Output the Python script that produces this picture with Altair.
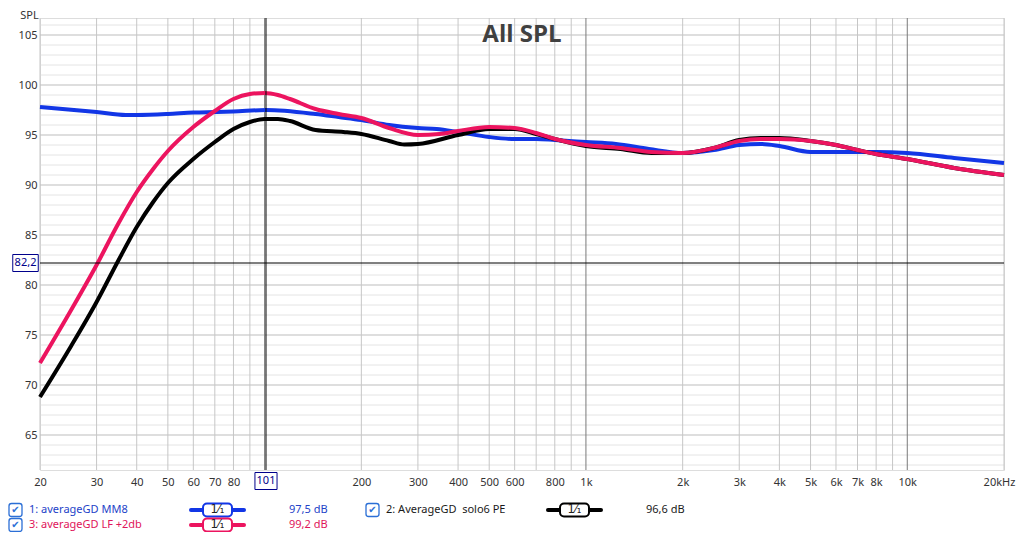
import altair as alt
import pandas as pd

# ---------------- data ----------------
series_names = ["1: averageGD MM8", "2: AverageGD  solo6 PE", "3: averageGD LF +2db"]
series_colors = ["#1236E6", "#000000", "#EC145F"]
text_colors = ["#2342C8", "#1a1a1a", "#E0145A"]
cursor_readings = ["97,5 dB", "96,6 dB", "99,2 dB"]

mm8_freq = [20, 30, 37, 40, 50, 60, 71, 80, 101, 144, 170, 200, 244, 300, 343, 400, 500, 600, 700, 800,
            1000, 1240, 1570, 2000, 2500, 3000, 3500, 4000, 5000, 6000, 8000, 10000, 14000, 20000]
mm8_spl = [97.8, 97.3, 97.0, 97.0, 97.1, 97.25, 97.3, 97.35, 97.5, 97.1, 96.8, 96.5, 96.0, 95.7, 95.6, 95.3,
           94.8, 94.6, 94.6, 94.5, 94.3, 94.1, 93.6, 93.2, 93.5, 94.0, 94.1, 93.9, 93.3, 93.3, 93.3, 93.2,
           92.7, 92.2]

solo6_freq = [20, 25, 30, 35, 40, 45, 50, 60, 70, 80, 90, 100, 110, 120, 144, 176, 200, 244, 272, 300,
              400, 500, 600, 700, 800, 1000, 1280, 1600, 2000, 2500, 3000, 3500, 4000, 5000, 6000, 7000,
              8000, 10000, 14000, 20000]
solo6_spl = [68.8, 73.9, 78.3, 82.4, 85.8, 88.3, 90.2, 92.6, 94.3, 95.6, 96.3, 96.6, 96.6, 96.4, 95.5, 95.3,
             95.1, 94.4, 94.05, 94.1, 95.0, 95.6, 95.6, 95.1, 94.6, 93.9, 93.6, 93.2, 93.2, 93.7, 94.5, 94.7,
             94.7, 94.4, 94.0, 93.5, 93.1, 92.6, 91.7, 91.0]

lf_freq = [20, 25, 30, 35, 40, 45, 50, 60, 70, 80, 90, 100, 110, 120, 144, 170, 200, 244, 300, 350,
           400, 500, 600, 700, 800, 1000, 1280, 1600, 2000, 2500, 3000, 3500, 4000, 5000, 6000, 7000,
           8000, 10000, 14000, 20000]
lf_spl = [72.2, 77.5, 82.0, 86.1, 89.3, 91.6, 93.4, 95.8, 97.4, 98.6, 99.1, 99.2, 99.0, 98.6, 97.6, 97.1,
          96.7, 95.7, 95.0, 95.1, 95.4, 95.8, 95.7, 95.2, 94.6, 94.0, 93.7, 93.3, 93.2, 93.7, 94.4, 94.6,
          94.6, 94.4, 94.0, 93.5, 93.1, 92.6, 91.7, 91.0]

xtick_values = [20, 30, 40, 50, 60, 70, 80, 200, 300, 400, 500, 600, 800, 1000, 2000, 3000, 4000,
                5000, 6000, 7000, 8000, 10000, 20000]
xtick_labels = ["20", "30", "40", "50", "60", "70", "80", "200", "300", "400", "500", "600", "800",
                "1k", "2k", "3k", "4k", "5k", "6k", "7k", "8k", "10k", "20kHz"]
ytick_values = [65, 70, 75, 80, 85, 90, 95, 100, 105]

cursor_freq = [101]
cursor_freq_label = ["101"]
cursor_spl = [82.2]
cursor_spl_label = ["82,2"]
chart_title = "All SPL"

# ---------------- tables ----------------
rows = []
for name, fr, vals in [(series_names[0], mm8_freq, mm8_spl),
                       (series_names[1], solo6_freq, solo6_spl),
                       (series_names[2], lf_freq, lf_spl)]:
    for f, v in zip(fr, vals):
        rows.append({"series": name, "freq": f, "spl": v})
curves = pd.DataFrame(rows)

grid_v = []
for dec in [10, 100, 1000, 10000]:
    for m in range(1, 10):
        f = m * dec
        if 20 <= f <= 20000:
            grid_v.append({"freq": f, "major": f in (100, 1000, 10000)})
grid_v = pd.DataFrame(grid_v)
grid_h = pd.DataFrame({"spl": list(range(62, 107))})
grid_h["major"] = grid_h["spl"] % 5 == 0

W, H = 964, 452
FONT = "Noto Sans"
FS = 11
xs = alt.Scale(type="log", domain=[20, 20000], nice=False)
ys = alt.Scale(domain=[61.5, 106.7], nice=False, zero=False)

label_expr = " : ".join(
    [f"datum.value == {v} ? '{l}'" for v, l in zip(xtick_values, xtick_labels)] + ["''"])

x_axis = alt.Axis(values=xtick_values, labelExpr=label_expr, grid=False, ticks=False, domain=False,
                  labelFont=FONT, labelFontSize=FS, labelColor="#333333", labelPadding=6,
                  labelOffset={"condition": {"test": f"datum.value == {xtick_values[-1]}", "value": -5},
                               "value": 0},
                  title=None, labelFlush=False, labelOverlap=False)
y_axis = alt.Axis(values=ytick_values, grid=False, ticks=False, domain=False, labelFont=FONT,
                  labelFontSize=FS, labelColor="#333333", labelPadding=3, labelOverlap=False,
                  title="SPL", titleAngle=0, titleX=-11, titleY=-3, titleAlign="center",
                  titleBaseline="middle", titleFont=FONT, titleFontSize=FS,
                  titleFontWeight="normal", titleColor="#333333")

X = lambda f="freq": alt.X(f"{f}:Q", scale=xs, axis=x_axis)
Y = lambda f="spl": alt.Y(f"{f}:Q", scale=ys, axis=y_axis)

gh_minor = alt.Chart(grid_h[~grid_h["major"]]).mark_rule(color="#e4e4e4", strokeWidth=1).encode(y=Y())
gh_major = alt.Chart(grid_h[grid_h["major"]]).mark_rule(color="#bdbdbd", strokeWidth=1).encode(y=Y())
gv_minor = alt.Chart(grid_v[~grid_v["major"]]).mark_rule(color="#c6c6c6", strokeWidth=1).encode(x=X())
gv_major = alt.Chart(grid_v[grid_v["major"]]).mark_rule(color="#7a7a7a", strokeWidth=1).encode(x=X())

title_df = pd.DataFrame({"t": [chart_title]})
title = alt.Chart(title_df).mark_text(font="Open Sans", fontSize=24, fontWeight="bold",
                                      color="#404040", align="center", baseline="middle").encode(
    x=alt.value(W / 2), y=alt.value(17), text="t:N")

lines = alt.Chart(curves).mark_line(strokeWidth=4, interpolate="monotone", strokeJoin="round").encode(
    x=X(), y=Y(),
    color=alt.Color("series:N", scale=alt.Scale(domain=series_names, range=series_colors), legend=None))

cur_v_df = pd.DataFrame({"freq": cursor_freq, "label": cursor_freq_label})
cur_h_df = pd.DataFrame({"spl": cursor_spl, "label": cursor_spl_label})
cur_v = alt.Chart(cur_v_df).mark_rule(color="#000000", strokeWidth=1).encode(x=X())
cur_h = alt.Chart(cur_h_df).mark_rule(color="#000000", strokeWidth=1).encode(y=Y())

box_v = alt.Chart(cur_v_df).mark_point(shape="M-1.3,-1L1.3,-1L1.3,1L-1.3,1Z", size=289, filled=True,
                                       fill="white", stroke="#00008B", strokeWidth=1, opacity=1).encode(
    x=X(), y=alt.value(463))
box_v_t = alt.Chart(cur_v_df).mark_text(font=FONT, fontSize=FS, color="#00008B", baseline="middle").encode(
    x=X(), y=alt.value(463), text="label:N")
box_h = alt.Chart(cur_h_df).mark_point(shape="M-1.5,-1L1.5,-1L1.5,1L-1.5,1Z", size=289, filled=True,
                                       fill="white", stroke="#00008B", strokeWidth=1, opacity=1).encode(
    x=alt.value(-14.5), y=Y())
box_h_t = alt.Chart(cur_h_df).mark_text(font=FONT, fontSize=FS, color="#00008B", baseline="middle").encode(
    x=alt.value(-14.5), y=Y(), text="label:N")

# ---------------- legend (custom) ----------------
col_x = [0, 357]
row_y = [492, 507]
placement = [(0, 0), (1, 0), (0, 1)]
leg = []
for i, name in enumerate(series_names):
    c, r = placement[i]
    ox = col_x[c]
    leg.append({"name": name.replace("  ", "\u00a0 "), "val": cursor_readings[i], "color": series_colors[i],
                "tcolor": text_colors[i],
                "cb": ox - 24.5, "lab": ox - 11, "s1": ox + 151, "s2": ox + 204,
                "b1": ox + 163, "b2": ox + 192, "bc": ox + 177.5, "vx": ox + 249,
                "y": row_y[r], "y1": row_y[r] - 6.5, "y2": row_y[r] + 6.5, "frac": "1\u2044\u2081",
                "check": "\u2714"})
leg = pd.DataFrame(leg)
PX = lambda f: alt.X(f"{f}:Q", scale=None, axis=None)
PY = lambda f: alt.Y(f"{f}:Q", scale=None, axis=None)
cmap = alt.Color("color:N", scale=None, legend=None)

cb_box = alt.Chart(leg).mark_rect(fill="white", stroke="#2B6FD6", strokeWidth=1.3, cornerRadius=2.5).encode(
    x=alt.X("cbl:Q", scale=None, axis=None), x2="cbr:Q", y=PY("y1c"), y2="y2c:Q").transform_calculate(
    cbl="datum.cb - 6.5", cbr="datum.cb + 6.5", y1c="datum.y - 6.5", y2c="datum.y + 6.5")
cb_tick = alt.Chart(leg).mark_text(font="DejaVu Sans", fontSize=10, color="#2B6FD6", baseline="middle",
                                   align="center").encode(x=PX("cb"), y=PY("y"), text="check:N")
lab = alt.Chart(leg).mark_text(font=FONT, fontSize=FS, align="left", baseline="middle").encode(
    x=PX("lab"), y=PY("y"), text="name:N", color=alt.Color("tcolor:N", scale=None, legend=None))
sym_line = alt.Chart(leg).mark_rule(strokeWidth=4, strokeCap="round").encode(
    x=PX("s1"), x2="s2:Q", y=PY("y"), color=cmap)
sym_box = alt.Chart(leg).mark_rect(fill="white", strokeWidth=2, cornerRadius=4).encode(
    x=PX("b1"), x2="b2:Q", y=PY("y1"), y2="y2:Q", stroke=alt.Color("color:N", scale=None, legend=None))
sym_txt = alt.Chart(leg).mark_text(font="DejaVu Sans", fontSize=11.5, color="#222222", align="center",
                                   baseline="middle").encode(x=PX("bc"), y=PY("y"), text="frac:N")
val = alt.Chart(leg).mark_text(font=FONT, fontSize=FS, align="left", baseline="middle").encode(
    x=PX("vx"), y=PY("y"), text="val:N", color=alt.Color("tcolor:N", scale=None, legend=None))

chart = alt.layer(
    gh_minor, gh_major, gv_minor, gv_major, title, lines, cur_v, cur_h,
    box_v, box_v_t, box_h, box_h_t,
    cb_box, cb_tick, lab, sym_line, sym_box, sym_txt, val
).properties(
    width=W, height=H,
    autosize=alt.AutoSizeParams(type="none"),
    padding={"left": 32, "top": 10, "right": 12, "bottom": 62},
).configure_view(stroke="#a8a8a8", strokeWidth=1).configure(background="white")

chart.save("out.html", embed_options={"renderer": "svg", "actions": False})
